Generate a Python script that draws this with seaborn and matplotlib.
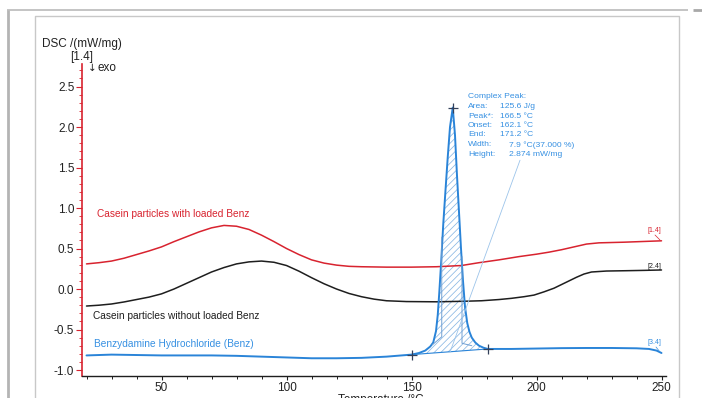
import numpy as np
import pandas as pd
import matplotlib
matplotlib.use("Agg")
import matplotlib.pyplot as plt
import seaborn as sns
from matplotlib.lines import Line2D
from matplotlib.ticker import MultipleLocator

# ---- DSC traces (temperature in °C, heat flow in mW/mg) ----
temp_loaded = [20, 25, 30, 35, 40, 45, 50, 55, 60, 65, 70, 75, 80, 85, 90, 95, 100,
               105, 110, 115, 120, 125, 130, 140, 150, 160, 170, 177, 185, 193, 200,
               205, 210, 215, 220, 225, 235, 250]
dsc_loaded = [0.31, 0.325, 0.345, 0.38, 0.425, 0.47, 0.52, 0.585, 0.645, 0.705, 0.755,
              0.785, 0.775, 0.735, 0.665, 0.585, 0.50, 0.425, 0.36, 0.32, 0.295, 0.28,
              0.275, 0.27, 0.27, 0.275, 0.29, 0.325, 0.36, 0.40, 0.43, 0.455, 0.485,
              0.52, 0.555, 0.57, 0.578, 0.595]

temp_unloaded = [20, 25, 30, 35, 40, 45, 50, 55, 60, 65, 70, 75, 80, 85, 90, 95, 100,
                 105, 110, 115, 120, 125, 130, 135, 140, 148, 160, 170, 178, 185, 190,
                 195, 199, 203, 207, 210, 213, 216, 219, 222, 228, 236, 243, 250]
dsc_unloaded = [-0.21, -0.20, -0.185, -0.16, -0.13, -0.10, -0.06, 0.0, 0.07, 0.14, 0.21,
                0.265, 0.31, 0.335, 0.345, 0.33, 0.29, 0.22, 0.14, 0.065, 0.0, -0.055,
                -0.095, -0.125, -0.145, -0.155, -0.158, -0.152, -0.145, -0.13, -0.115,
                -0.095, -0.075, -0.035, 0.01, 0.055, 0.10, 0.145, 0.185, 0.21, 0.222,
                0.226, 0.23, 0.235]

temp_benz = [20, 25, 30, 40, 50, 60, 70, 80, 90, 100, 110, 120, 130, 140, 150, 153,
             155.5, 157.5, 158.7, 159.8, 160.5, 161.1, 161.9, 162.7, 163.6, 164.5,
             165.4, 166.5, 167.4, 168.2, 169.0, 169.8, 170.6, 171.4, 172.3, 173.2,
             174.1, 175.5, 177, 178.8, 180.5, 190, 200, 210, 220, 230, 240, 245, 248, 250]
dsc_benz = [-0.82, -0.815, -0.81, -0.815, -0.82, -0.82, -0.82, -0.825, -0.835, -0.845,
            -0.855, -0.855, -0.85, -0.835, -0.81, -0.79, -0.76, -0.71, -0.66, -0.52,
            -0.32, -0.05, 0.35, 0.80, 1.22, 1.63, 2.0, 2.24, 1.90, 1.40, 0.95, 0.50,
            0.10, -0.22, -0.42, -0.53, -0.60, -0.66, -0.70, -0.725, -0.74, -0.74,
            -0.735, -0.73, -0.728, -0.728, -0.732, -0.74, -0.76, -0.79]

# peak evaluation (integration limits, characteristic temperatures)
peak_start, peak_end, peak_temp = 150.0, 180.5, 166.5
peak_lines = ["Complex Peak:", "Area:", "Peak*:", "Onset:", "End:", "Width:", "Height:"]
peak_values = ["", "125.6 J/g", "166.5 °C", "162.1 °C", "171.2 °C",
               "7.9 °C(37.000 %)", "2.874 mW/mg"]

series_names = ["Casein particles with loaded Benz",
                "Casein particles without loaded Benz",
                "Benzydamine Hydrochloride (Benz)"]
segment_tags = ["[1.4]", "[2.4]", "[3.4]"]

RED = "#d8232f"
BLACK = "#1e1e1e"
BLUE = "#2a84d8"
TXT_BLUE = "#3690e2"
HATCH = "#8ab8e4"

sns.set_theme(style="white")
plt.rcParams["font.family"] = ["Liberation Sans", "DejaVu Sans"]
plt.rcParams["hatch.linewidth"] = 0.55

W, H = 702, 398
fig = plt.figure(figsize=(W / 100, H / 100), dpi=100)
fig.patch.set_facecolor("white")


def fx(px):
    return px / W


def fy(py):
    return 1 - py / H


# screenshot-style window frame
frame = dict(transform=fig.transFigure, solid_capstyle="butt")
fig.add_artist(Line2D([fx(7), fx(688)], [fy(10), fy(10)], color="#c4c4c4", lw=1.4, **frame))
fig.add_artist(Line2D([fx(693), fx(702)], [fy(10), fy(10)], color="#a8a8a8", lw=2.0, **frame))
fig.add_artist(Line2D([fx(8), fx(8)], [fy(10), fy(398)], color="#b4b4b4", lw=2.0, **frame))
fig.add_artist(Line2D([fx(35), fx(35), fx(679), fx(679)],
                      [fy(398), fy(16), fy(16), fy(398)], color="#c8c8c8", lw=1.0, **frame))

ax = fig.add_axes([fx(82), fy(376), (666 - 82) / W, (376 - 64) / H])
ax.set_facecolor("none")

df = pd.concat([
    pd.DataFrame({"T": temp_loaded, "DSC": dsc_loaded, "sample": series_names[0]}),
    pd.DataFrame({"T": temp_unloaded, "DSC": dsc_unloaded, "sample": series_names[1]}),
])
sns.lineplot(data=df, x="T", y="DSC", hue="sample",
             palette={series_names[0]: RED, series_names[1]: BLACK},
             sort=False, estimator=None, legend=False, lw=1.1, ax=ax)

benz = pd.DataFrame({"T": temp_benz, "DSC": dsc_benz})
sns.lineplot(data=benz, x="T", y="DSC", color=BLUE, sort=False, estimator=None,
             legend=False, lw=1.4, ax=ax)

# integrated peak area above the linear baseline
tb = np.array(temp_benz)
vb = np.array(dsc_benz)
v_start = vb[tb == peak_start][0]
v_end = vb[tb == peak_end][0]
sel = (tb >= peak_start) & (tb <= peak_end)
base = np.interp(tb[sel], [peak_start, peak_end], [v_start, v_end])
ax.fill_between(tb[sel], base, vb[sel], facecolor="none", edgecolor=HATCH,
                hatch="/////", linewidth=0)
ax.plot([peak_start, peak_end], [v_start, v_end], color=BLUE, lw=0.8)

# partial-area construction lines
ax.plot([162.1, 162.1, 158.3], [0.64, -0.59, -0.69], color="#6f9fd3", lw=0.7)
ax.plot([170.2, 170.2, 174.1], [0.40, -0.67, -0.70], color="#6f9fd3", lw=0.7)

# markers: limits and peak maximum
v_peak = vb[tb == peak_temp][0]
ax.plot([peak_start, peak_end, peak_temp], [v_start, v_end, v_peak], ls="none",
        marker="+", ms=7, mew=0.9, color="#33405a")

# leader line to the peak evaluation box
ax.plot([193.4, 165.4], [1.59, -0.78], color="#9cc4ea", lw=0.6)

# axes styling
ax.set_xlim(18.2, 251.8)
ax.set_ylim(-1.074, 2.778)
ax.xaxis.set_major_locator(MultipleLocator(50))
ax.xaxis.set_minor_locator(MultipleLocator(10))
ax.yaxis.set_major_locator(MultipleLocator(0.5))
ax.yaxis.set_minor_locator(MultipleLocator(0.1))
ax.set_xlabel("")
ax.set_ylabel("")
for s in ("top", "right"):
    ax.spines[s].set_visible(False)
ax.spines["left"].set_color(RED)
ax.spines["left"].set_linewidth(1.2)
ax.spines["bottom"].set_color(BLACK)
ax.spines["bottom"].set_linewidth(1.0)
ax.tick_params(axis="x", which="both", bottom=True, direction="out", color=BLACK,
               labelsize=8.5, labelcolor="#222222", pad=1.5)
ax.tick_params(axis="x", which="major", length=3, width=0.8)
ax.tick_params(axis="x", which="minor", length=2, width=0.7)
ax.tick_params(axis="y", which="both", left=True, direction="out", color=RED,
               labelsize=8.5, labelcolor="#222222", pad=1.5)
ax.tick_params(axis="y", which="major", length=4, width=0.8)
ax.tick_params(axis="y", which="minor", length=2, width=0.6)
ax.set_yticks([-1.0, -0.5, 0.0, 0.5, 1.0, 1.5, 2.0, 2.5])
ax.set_yticklabels(["-1.0", "-0.5", "0.0", "0.5", "1.0", "1.5", "2.0", "2.5"])

# curve names
ax.text(24.2, 0.926, series_names[0], color=RED, fontsize=7.3, va="center", ha="left")
ax.text(22.6, -0.333, series_names[1], color=BLACK, fontsize=7.3, va="center", ha="left")
ax.text(23.0, -0.673, series_names[2], color=TXT_BLUE, fontsize=7.3, va="center", ha="left")

# segment tags at curve ends
fig.text(fx(654), fy(231), segment_tags[0], color=RED, fontsize=5, ha="center", va="center")
fig.text(fx(654), fy(266.5), segment_tags[1], color=BLACK, fontsize=5, ha="center", va="center")
fig.text(fx(654), fy(343), segment_tags[2], color=TXT_BLUE, fontsize=5, ha="center", va="center")
fig.add_artist(Line2D([fx(655), fx(660)], [fy(235), fy(240)], color=RED, lw=0.5,
                      transform=fig.transFigure))
fig.add_artist(Line2D([fx(656), fx(660)], [fy(347), fy(352)], color=TXT_BLUE, lw=0.5,
                      transform=fig.transFigure))

# peak evaluation text
row_y = [97, 106.5, 116, 125.5, 135, 145, 154.5]
val_x = [0, 500, 500, 500, 500, 509, 509]
for lab, val, yy, xx in zip(peak_lines, peak_values, row_y, val_x):
    fig.text(fx(468), fy(yy), lab, color=TXT_BLUE, fontsize=6.1, ha="left", va="center")
    if val:
        fig.text(fx(xx), fy(yy), val, color=TXT_BLUE, fontsize=6.1, ha="left", va="center")

# axis titles
fig.text(fx(81.5), fy(44), "DSC /(mW/mg)", fontsize=8.5, color="#222222",
         ha="center", va="center")
fig.text(fx(81.5), fy(57), "[1.4]", fontsize=8.5, color="#222222", ha="center", va="center")
fig.text(fx(87.5), fy(68), "↓", fontsize=7.5, color="#222222", ha="left", va="center",
         family=["DejaVu Sans"])
fig.text(fx(97), fy(68), "exo", fontsize=8.5, color="#222222", ha="left", va="center")
fig.text(fx(381), fy(394.5), "Temperature /°C", fontsize=8.5, color="#222222",
         ha="center", va="top")

fig.savefig("out.png", dpi=100, facecolor="white")
